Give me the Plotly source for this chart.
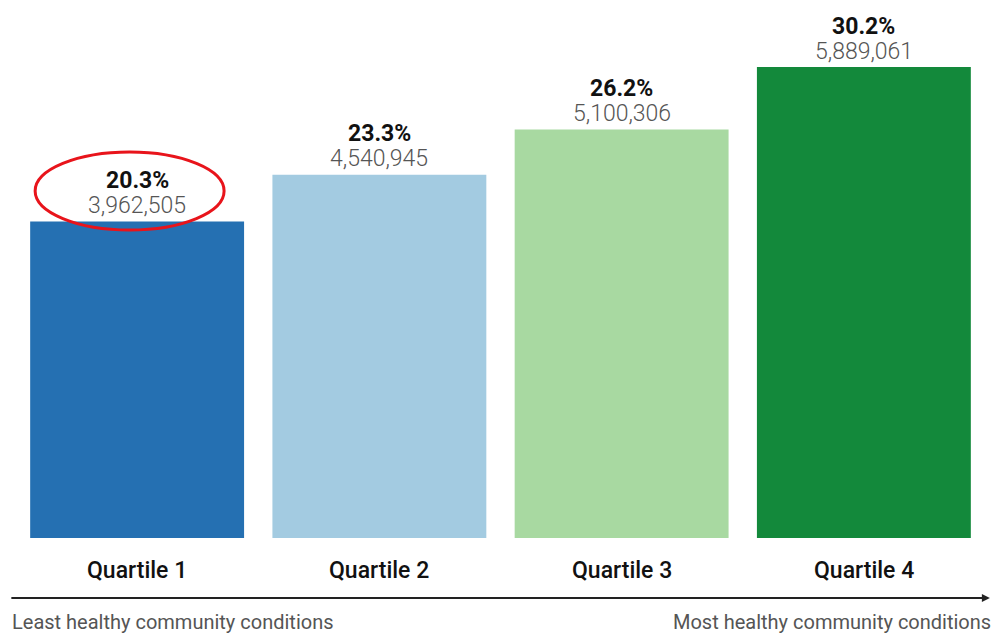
import plotly.graph_objects as go

categories = ["Quartile 1", "Quartile 2", "Quartile 3", "Quartile 4"]
percents = [20.3, 23.3, 26.2, 30.2]
counts = [3962505, 4540945, 5100306, 5889061]
colors = ["#2570b2", "#a3cbe1", "#a8d9a1", "#13893b"]
left_label = "Least healthy community conditions"
right_label = "Most healthy community conditions"

fig = go.Figure()
fig.add_trace(go.Bar(x=categories, y=percents, marker=dict(color=colors, line=dict(width=0)),
                     hoverinfo="skip"))

ann = []
for c, p, n in zip(categories, percents, counts):
    ann.append(dict(x=c, y=p, xref="x", yref="y", text=f"<b>{p:.1f}%</b>", showarrow=False,
                    yanchor="middle", yshift=41,
                    font=dict(family="Roboto", size=23, color="#111111")))
    ann.append(dict(x=c, y=p, xref="x", yref="y", text=f"{n:,}", showarrow=False,
                    yanchor="middle", yshift=16,
                    font=dict(family="Roboto", size=23, color="#555555", weight=300)))
    ann.append(dict(x=c, y=0, xref="x", yref="y", text=c, showarrow=False,
                    yanchor="middle", yshift=-32,
                    font=dict(family="Roboto", size=23, color="#111111", weight=500)))

# arrow
ann.append(dict(x=1.005, y=-0.1115, xref="paper", yref="paper", ax=-980, ay=0,
                axref="pixel", ayref="pixel", text="", showarrow=True, arrowhead=2,
                arrowsize=0.8, arrowwidth=2, arrowcolor="#222222"))
ann.append(dict(x=-0.006, y=-0.156, xref="paper", yref="paper", text=left_label,
                showarrow=False, xanchor="left", yanchor="middle",
                font=dict(family="Roboto", size=20, color="#555555")))
ann.append(dict(x=1.008, y=-0.156, xref="paper", yref="paper", text=right_label,
                showarrow=False, xanchor="right", yanchor="middle",
                font=dict(family="Roboto", size=20, color="#555555")))

fig.update_layout(
    width=992, height=633,
    margin=dict(l=16, r=7, t=0, b=95),
    paper_bgcolor="white", plot_bgcolor="white",
    bargap=0.117, showlegend=False,
    xaxis=dict(showticklabels=False, showgrid=False, zeroline=False, showline=False),
    yaxis=dict(range=[0, 34.5], visible=False),
    annotations=ann,
    shapes=[dict(type="circle", xref="x", yref="y", x0=-0.421, x1=0.359, y0=19.75, y1=24.75,
                 line=dict(color="#e8141b", width=3))],
)

fig.write_html("out.html", config={"displayModeBar": False},
               post_script="document.body.style.margin='0';document.body.style.overflow='hidden';")
